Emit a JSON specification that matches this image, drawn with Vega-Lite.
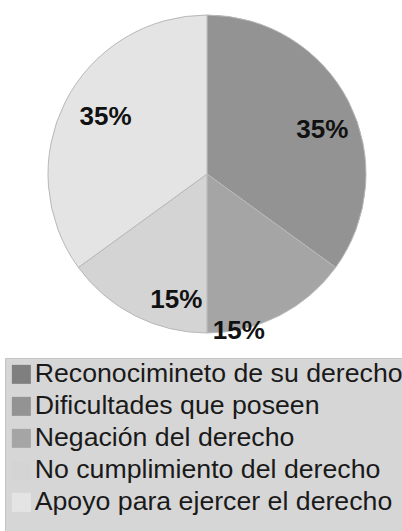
{
  "$schema": "https://vega.github.io/schema/vega-lite/v6.json",
  "width": 392,
  "height": 348,
  "padding": {"left": 4, "top": 0, "right": 0, "bottom": 0},
  "background": "white",
  "data": {
    "values": [
      {"categoria": "Reconocimineto de su derecho", "valor": 0, "orden": 1},
      {"categoria": "Dificultades que poseen", "valor": 0.35, "orden": 2},
      {"categoria": "Negación del derecho", "valor": 0.15, "orden": 3},
      {"categoria": "No cumplimiento del derecho", "valor": 0.15, "orden": 4},
      {"categoria": "Apoyo para ejercer el derecho", "valor": 0.35, "orden": 5}
    ]
  },
  "transform": [
    {"stack": "valor", "groupby": [], "sort": [{"field": "orden", "order": "ascending"}], "as": ["t0", "t1"]},
    {"calculate": "(datum.t0 + datum.t1) / 2", "as": "tm"}
  ],
  "layer": [
    {
      "mark": {"type": "arc", "outerRadius": 159, "stroke": "#b8b8b8", "strokeWidth": 1},
      "encoding": {
        "theta": {"field": "t0", "type": "quantitative", "scale": {"domain": [0, 1]}},
        "theta2": {"field": "t1"},
        "color": {
          "field": "categoria",
          "type": "nominal",
          "sort": null,
          "scale": {
            "domain": ["Reconocimineto de su derecho", "Dificultades que poseen", "Negación del derecho", "No cumplimiento del derecho", "Apoyo para ejercer el derecho"],
            "range": ["#7f7f7f", "#939393", "#a5a5a5", "#d4d4d4", "#e4e4e4"]
          },
          "legend": {
            "orient": "none",
            "legendX": -6,
            "legendY": 358,
            "title": " ",
            "titleOrient": "bottom",
            "titleFontSize": 24,
            "fillColor": "#d6d6d6",
            "strokeColor": "#c4c4c4",
            "padding": 3,
            "symbolType": "square",
            "symbolSize": 361,
            "symbolStrokeWidth": 0,
            "labelFontSize": 26.7,
            "labelFont": "Liberation Sans",
            "labelColor": "#1a1a1a",
            "labelLimit": 0,
            "labelOffset": 0,
            "rowPadding": 4
          }
        }
      }
    },
    {
      "transform": [{"filter": "datum.categoria === 'Dificultades que poseen'"}],
      "mark": {"type": "text", "radius": 125, "dx": 4, "dy": 13, "fontSize": 26, "fontWeight": "bold", "font": "Liberation Sans", "color": "#111111", "align": "center", "baseline": "middle"},
      "encoding": {
        "theta": {"field": "tm", "type": "quantitative", "scale": {"domain": [0, 1]}},
        "text": {"field": "valor", "type": "quantitative", "format": ".0%"}
      }
    },
    {
      "transform": [{"filter": "datum.categoria === 'Apoyo para ejercer el derecho'"}],
      "mark": {"type": "text", "radius": 125, "dx": 10, "dy": 0, "fontSize": 26, "fontWeight": "bold", "font": "Liberation Sans", "color": "#111111", "align": "center", "baseline": "middle"},
      "encoding": {
        "theta": {"field": "tm", "type": "quantitative", "scale": {"domain": [0, 1]}},
        "text": {"field": "valor", "type": "quantitative", "format": ".0%"}
      }
    },
    {
      "transform": [{"filter": "datum.categoria === 'No cumplimiento del derecho'"}],
      "mark": {"type": "text", "radius": 125, "dx": 26, "dy": 15, "fontSize": 26, "fontWeight": "bold", "font": "Liberation Sans", "color": "#111111", "align": "center", "baseline": "middle"},
      "encoding": {
        "theta": {"field": "tm", "type": "quantitative", "scale": {"domain": [0, 1]}},
        "text": {"field": "valor", "type": "quantitative", "format": ".0%"}
      }
    },
    {
      "transform": [{"filter": "datum.categoria === 'Negación del derecho'"}],
      "mark": {"type": "text", "radius": 125, "dx": -25, "dy": 46, "fontSize": 26, "fontWeight": "bold", "font": "Liberation Sans", "color": "#111111", "align": "center", "baseline": "middle"},
      "encoding": {
        "theta": {"field": "tm", "type": "quantitative", "scale": {"domain": [0, 1]}},
        "text": {"field": "valor", "type": "quantitative", "format": ".0%"}
      }
    }
  ],
  "config": {"view": {"stroke": null}}
}
